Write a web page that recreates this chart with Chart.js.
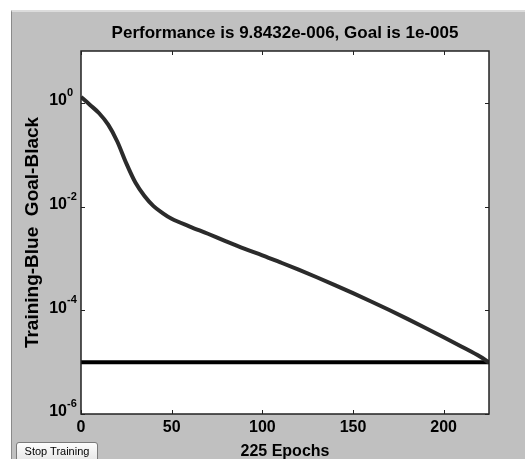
<!DOCTYPE html>
<html>
<head>
<meta charset="utf-8">
<script src="https://cdn.jsdelivr.net/npm/chart.js@4/dist/chart.umd.min.js"></script>
<style>
  body { margin: 0; background: #fff; }
  #wrap { position: relative; width: 525px; height: 459px; overflow: hidden; background: #fff; }
  #panel { position: absolute; left: 11px; top: 10px; right: 0; bottom: 0;
           background: #c0c0c0; border-left: 1px solid #8a8a8a; border-top: 2px solid #dcdcdc; }
  canvas { position: absolute; left: 0; top: 0; }
  #stop { position: absolute; left: 16px; top: 442px; width: 82px; height: 20px;
          font: 11px Arial, "Liberation Sans", sans-serif; color: #000;
          background: linear-gradient(#fdfdfd, #e6e6e6); border: 1px solid #7a7a7a;
          border-radius: 3px; padding: 0 0 3px 0; }
</style>
</head>
<body>
<div id="wrap">
  <div id="panel"></div>
  <canvas id="perfChart" width="525" height="459"></canvas>
  <button id="stop">Stop Training</button>
</div>
<script>
// training record
const epochs = [0, 5, 10, 15, 20, 25, 30, 35, 40, 45, 50, 60, 70, 80, 90, 100,
                110, 120, 130, 140, 150, 160, 170, 180, 190, 200, 210, 220, 225];
const perf = [1.3, 0.91, 0.63, 0.38, 0.18, 0.068, 0.029, 0.016, 0.0102, 0.0075, 0.0058,
              0.00412, 0.00299, 0.00214, 0.00155, 0.00115, 0.000838, 0.000607, 0.000434, 0.000306,
              0.000214, 0.000148, 0.000101, 6.84e-5, 4.57e-5, 3.02e-5, 1.98e-5, 1.28e-5, 9.8432e-6];
const goalX = [0, 225];
const goalY = [1e-5, 1e-5];
const xTicks = [0, 50, 100, 150, 200];
const yTicks = [1e0, 1e-2, 1e-4, 1e-6];
const titleText = 'Performance is 9.8432e-006, Goal is 1e-005';

const FONT = "Arial, 'Liberation Sans', Helvetica, sans-serif";

// MATLAB style: white axes box, inward ticks, 10^n labels, title over the axes
const axesBox = {
  id: 'axesBox',
  beforeDraw(chart) {
    const { ctx, chartArea: a } = chart;
    ctx.save();
    ctx.fillStyle = '#fff';
    ctx.fillRect(a.left, a.top, a.right - a.left, a.bottom - a.top);
    ctx.restore();
  },
  afterDraw(chart) {
    const { ctx, chartArea: a, scales: { x, y } } = chart;
    ctx.save();
    ctx.strokeStyle = '#222';
    ctx.lineWidth = 1;
    xTicks.forEach(v => {
      const px = Math.round(x.getPixelForValue(v)) + 0.5;
      ctx.beginPath();
      ctx.moveTo(px, a.bottom); ctx.lineTo(px, a.bottom - 4);
      ctx.moveTo(px, a.top); ctx.lineTo(px, a.top + 4);
      ctx.stroke();
    });
    yTicks.forEach(v => {
      const py = Math.round(y.getPixelForValue(v)) + 0.5;
      ctx.beginPath();
      ctx.moveTo(a.left, py); ctx.lineTo(a.left + 4, py);
      ctx.moveTo(a.right, py); ctx.lineTo(a.right - 4, py);
      ctx.stroke();
    });
    ctx.lineWidth = 1.5;
    ctx.strokeRect(a.left, a.top, a.right - a.left, a.bottom - a.top);

    ctx.fillStyle = '#000';
    ctx.textBaseline = 'middle';
    // y tick labels with superscript exponents
    yTicks.forEach(v => {
      const py = y.getPixelForValue(v);
      ctx.font = 'bold 16px ' + FONT;
      ctx.textAlign = 'right';
      ctx.fillText('10', 67, py - 2);
      ctx.font = 'bold 11px ' + FONT;
      ctx.textAlign = 'left';
      ctx.fillText(String(Math.round(Math.log10(v))), 67, py - 10);
    });
    // title centred on the axes
    ctx.font = 'bold 17px ' + FONT;
    ctx.textAlign = 'center';
    ctx.fillText(titleText, (a.left + a.right) / 2, 33);
    ctx.restore();
  }
};

new Chart(document.getElementById('perfChart'), {
  type: 'line',
  data: {
    datasets: [
      {
        label: 'Training',
        data: epochs.map((e, i) => ({ x: e, y: perf[i] })),
        borderColor: '#2b2b2b',
        borderWidth: 4,
        pointRadius: 0,
        tension: 0.3,
        cubicInterpolationMode: 'monotone'
      },
      {
        label: 'Goal',
        data: goalX.map((e, i) => ({ x: e, y: goalY[i] })),
        borderColor: '#000',
        borderWidth: 4,
        pointRadius: 0
      }
    ]
  },
  options: {
    responsive: false,
    animation: false,
    layout: { padding: { left: 40, right: 36, top: 51, bottom: 0 } },
    plugins: {
      legend: { display: false },
      tooltip: { enabled: false },
      title: { display: false }
    },
    scales: {
      x: {
        type: 'linear',
        min: 0,
        max: 225,
        afterFit(scale) { scale.height = 45; },
        afterBuildTicks(scale) { scale.ticks = xTicks.map(v => ({ value: v })); },
        grid: { display: false, drawTicks: false },
        border: { display: false },
        ticks: {
          color: '#000',
          padding: 4,
          maxRotation: 0,
          font: { family: FONT, size: 16, weight: 'bold' }
        },
        title: {
          display: true,
          text: '225 Epochs',
          color: '#000',
          font: { family: FONT, size: 16, weight: 'bold' },
          padding: { top: 0, bottom: -2.5 }
        }
      },
      y: {
        type: 'logarithmic',
        min: 1e-6,
        max: 10,
        afterFit(scale) { scale.width = 41; },
        grid: { display: false, drawTicks: false },
        border: { display: false },
        ticks: { display: false },
        title: {
          display: true,
          text: 'Training-Blue  Goal-Black',
          color: '#000',
          font: { family: FONT, size: 19, weight: 'bold' },
          padding: { top: -18.4, bottom: 0 }
        }
      }
    }
  },
  plugins: [axesBox]
});
</script>
</body>
</html>
